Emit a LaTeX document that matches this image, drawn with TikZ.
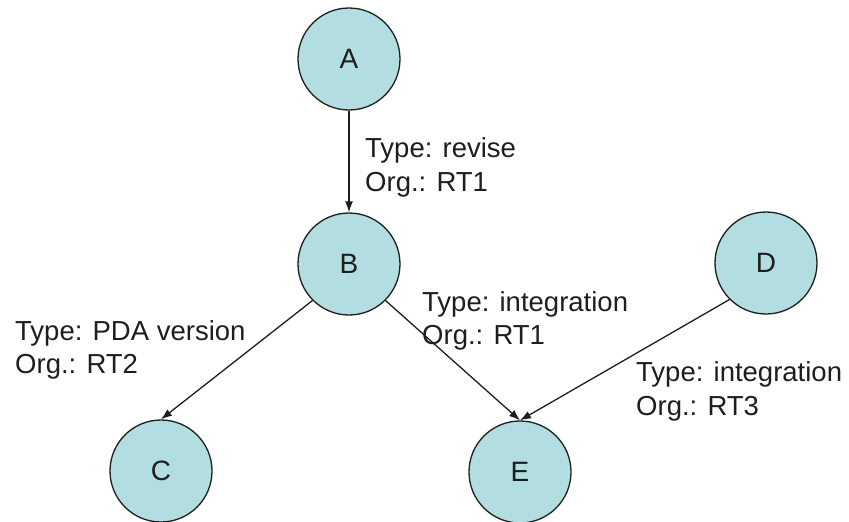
\documentclass[tikz,border=0pt]{standalone}
\usepackage{fontspec}
\setmainfont{Liberation Sans}
\usetikzlibrary{arrows.meta}
\definecolor{nodefill}{RGB}{178,222,226}
\definecolor{ink}{RGB}{30,30,30}
\begin{document}
\begin{tikzpicture}[x=1pt,y=-1pt,
  vertex/.style={circle, draw=ink, line width=1.3pt, fill=nodefill, minimum size=102pt, inner sep=0pt, font=\fontsize{28}{30}\selectfont, text=ink},
  edge/.style={draw=ink, line width=1.3pt, -{Latex[length=11pt,width=8pt]}},
  lab/.style={anchor=base west, inner sep=0pt, font=\fontsize{27.5}{33}\selectfont, text=ink}]
\useasboundingbox (0,0) rectangle (849,522);
\node[vertex] (A) at (349,59) {A};
\node[vertex] (B) at (349,264) {B};
\node[vertex] (C) at (161,471) {C};
\node[vertex] (D) at (766,263) {D};
\node[vertex] (E) at (520,472) {E};
\draw[edge] (A.south) -- (B.north);
\draw[edge] (B.south west) -- (C.north);
\draw[edge] (B.south east) -- (E.north);
\draw[edge] (D.south west) -- (E.north);
\node[lab] (l1a) at (365,157) {Type: revise};
\node[lab] (l1b) at (365,191) {Org.: RT1};
\node[lab] (l2a) at (422,311) {Type: integration};
\node[lab] (l2b) at (422,344) {Org.: RT1};
\node[lab] (l3a) at (15,340) {Type: PDA version};
\node[lab] (l3b) at (15,373) {Org.: RT2};
\node[lab] (l4a) at (636,381) {Type: integration};
\node[lab] (l4b) at (636,415) {Org.: RT3};
\end{tikzpicture}
\end{document}
